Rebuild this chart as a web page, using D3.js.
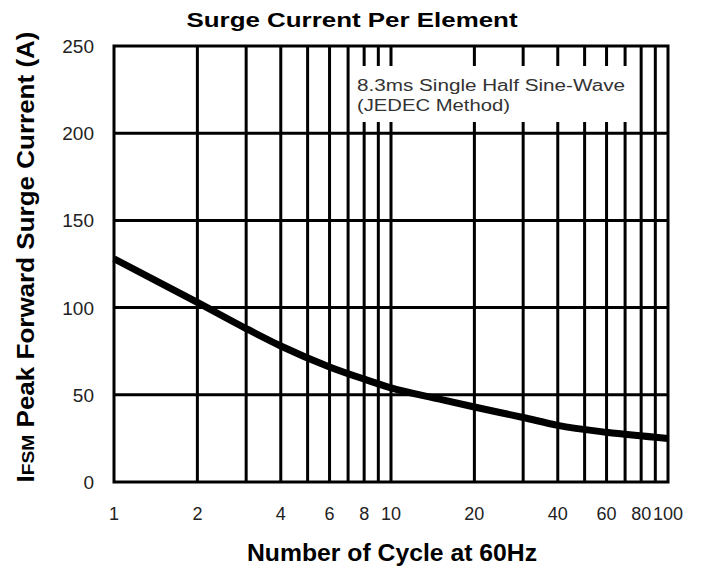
<!DOCTYPE html>
<html lang="en">
<head>
  <meta charset="UTF-8">
  <title>Surge Current Per Element</title>
  <style>
    body { margin: 0; background: #fff; }
    svg { font-family: "Liberation Sans", Arial, sans-serif; }
    .grid line { stroke: #000; stroke-width: 3px; }
    .tick-label { font-size: 19px; fill: #222; }
    .curve { fill: none; stroke: #000; stroke-width: 7px; }
  </style>
</head>
<body>
  <svg width="704" height="569"></svg>

  <script src="https://d3js.org/d3.v7.min.js"></script>
  <script>
    // surge curve
    const cycles = [1, 2, 3, 4, 6, 8, 10, 15, 20, 30, 40, 60, 100];
    const current = [128, 103, 88, 78, 66, 59, 54, 47.5, 43, 37, 32.5, 28.5, 25];

    const xGrid = [2, 3, 4, 5, 6, 7, 8, 9, 10, 20, 30, 40, 50, 60, 70, 80, 90];
    const xLabels = [1, 2, 4, 6, 8, 10, 20, 40, 60, 80, 100];
    const yTicks = [0, 50, 100, 150, 200, 250];

    const svg = d3.select("svg");
    const plot = { left: 114, right: 668, top: 46, bottom: 482 };

    const x = d3.scaleLog().domain([1, 100]).range([plot.left, plot.right]);
    const y = d3.scaleLinear().domain([0, 250]).range([plot.bottom, plot.top]);

    // title
    svg.append("text")
      .attr("x", 352).attr("y", 27)
      .attr("text-anchor", "middle")
      .attr("textLength", 331).attr("lengthAdjust", "spacingAndGlyphs")
      .style("font-size", "21px").style("font-weight", "bold")
      .text("Surge Current Per Element");

    // grid
    const grid = svg.append("g").attr("class", "grid");
    grid.selectAll(".v")
      .data(xGrid)
      .join("line")
      .attr("x1", d => x(d)).attr("x2", d => x(d))
      .attr("y1", plot.top).attr("y2", plot.bottom);
    grid.selectAll(".h")
      .data(yTicks.slice(1, -1))
      .join("line")
      .attr("x1", plot.left).attr("x2", plot.right)
      .attr("y1", d => y(d)).attr("y2", d => y(d));

    // note box covers grid
    svg.append("rect")
      .attr("x", 352).attr("y", 66)
      .attr("width", 279).attr("height", 56)
      .attr("fill", "#fff");
    svg.append("text")
      .attr("x", 357).attr("y", 90.5)
      .attr("textLength", 268).attr("lengthAdjust", "spacingAndGlyphs")
      .style("font-size", "16px").style("fill", "#333")
      .text("8.3ms Single Half Sine-Wave");
    svg.append("text")
      .attr("x", 357).attr("y", 111)
      .attr("textLength", 153).attr("lengthAdjust", "spacingAndGlyphs")
      .style("font-size", "16px").style("fill", "#333")
      .text("(JEDEC Method)");

    // border
    svg.append("rect")
      .attr("x", plot.left).attr("y", plot.top)
      .attr("width", plot.right - plot.left).attr("height", plot.bottom - plot.top)
      .attr("fill", "none").attr("stroke", "#000").attr("stroke-width", 3);

    // curve
    const line = d3.line()
      .x((d, i) => x(cycles[i]))
      .y(d => y(d))
      .curve(d3.curveMonotoneX);
    svg.append("path")
      .datum(current)
      .attr("class", "curve")
      .attr("d", line);

    // tick labels
    svg.selectAll(".ylab")
      .data(yTicks)
      .join("text")
      .attr("class", "tick-label")
      .attr("x", 94).attr("y", d => y(d) + 7)
      .attr("text-anchor", "end")
      .text(d => d);

    svg.selectAll(".xlab")
      .data(xLabels)
      .join("text")
      .attr("class", "tick-label")
      .attr("x", d => x(d)).attr("y", 520)
      .attr("text-anchor", "middle")
      .style("font-size", "18px")
      .text(d => d);

    // axis titles
    svg.append("text")
      .attr("x", 392).attr("y", 561)
      .attr("text-anchor", "middle")
      .attr("textLength", 290).attr("lengthAdjust", "spacingAndGlyphs")
      .style("font-size", "24px").style("font-weight", "bold")
      .text("Number of Cycle at 60Hz");

    const yt = svg.append("text")
      .attr("transform", "translate(34,257) rotate(-90)")
      .attr("text-anchor", "middle")
      .attr("textLength", 451).attr("lengthAdjust", "spacingAndGlyphs")
      .style("font-size", "23px").style("font-weight", "bold");
    yt.append("tspan").text("I");
    yt.append("tspan").style("font-size", "17px").text("FSM");
    yt.append("tspan").text(" Peak Forward Surge Current (A)");
  </script>
</body>
</html>
